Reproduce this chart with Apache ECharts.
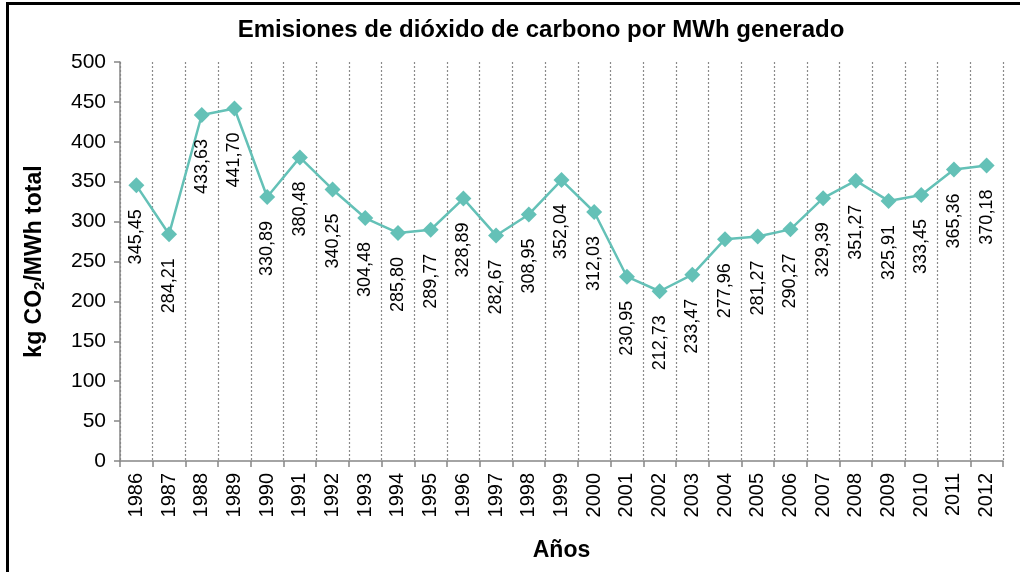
<!DOCTYPE html>
<html>
<head>
<meta charset="utf-8">
<script src="https://cdn.jsdelivr.net/npm/echarts@6/dist/echarts.min.js"></script>
<style>
  html, body { margin: 0; padding: 0; background: #fff; }
  #chart { width: 1020px; height: 572px; }
</style>
</head>
<body>
<div id="chart"></div>
<script>
var years = ['1986','1987','1988','1989','1990','1991','1992','1993','1994','1995','1996','1997','1998','1999',
             '2000','2001','2002','2003','2004','2005','2006','2007','2008','2009','2010','2011','2012'];
var emissions = [345.45, 284.21, 433.63, 441.70, 330.89, 380.48, 340.25, 304.48, 285.80, 289.77, 328.89, 282.67,
                 308.95, 352.04, 312.03, 230.95, 212.73, 233.47, 277.96, 281.27, 290.27, 329.39, 351.27, 325.91,
                 333.45, 365.36, 370.18];
var yTicks = [0, 50, 100, 150, 200, 250, 300, 350, 400, 450, 500];

var font = 'Liberation Sans, Arial, sans-serif';
var teal = '#64c1b7';
var axisGrey = '#868686';

var chart = echarts.init(document.getElementById('chart'));
chart.setOption({
    animation: false,
    textStyle: { fontFamily: font },
    title: {
        text: 'Emisiones de dióxido de carbono por MWh generado',
        left: 536,
        top: 13,
        textAlign: 'center',
        textStyle: { fontFamily: font, fontSize: 24, fontWeight: 'bold', color: '#000' }
    },
    graphic: [{
        type: 'rect',
        shape: { x: 7.5, y: 3.5, width: 1100, height: 700 },
        style: { fill: 'none', stroke: '#000', lineWidth: 3 },
        silent: true
    }],
    grid: { left: 120, right: 17, top: 62, bottom: 111 },
    xAxis: {
        type: 'category',
        data: years,
        boundaryGap: true,
        name: 'Años',
        nameLocation: 'middle',
        nameGap: 78,
        nameTextStyle: { fontFamily: font, fontSize: 23, fontWeight: 'bold', color: '#000' },
        axisLine: { lineStyle: { color: axisGrey, width: 1.5 } },
        axisTick: { show: true, length: 6, alignWithLabel: false, lineStyle: { color: axisGrey, width: 1.5 } },
        axisLabel: { rotate: 90, margin: 12, fontSize: 20, color: '#000', fontFamily: font },
        splitLine: { show: true, lineStyle: { color: '#8a8a8a', type: [2, 2], width: 1.2 } }
    },
    yAxis: {
        type: 'value',
        min: yTicks[0],
        max: yTicks[yTicks.length - 1],
        interval: 50,
        name: 'kg CO{sub|2}/MWh total',
        nameLocation: 'middle',
        nameGap: 73,
        nameTextStyle: {
            fontFamily: font, fontSize: 23, fontWeight: 'bold', color: '#000',
            rich: {
                sub: { fontFamily: font, fontSize: 15, fontWeight: 'bold', color: '#000', verticalAlign: 'bottom', padding: [9, 0, 0, 0] }
            }
        },
        axisLine: { show: true, lineStyle: { color: axisGrey, width: 1.5 } },
        axisTick: { show: true, length: 6, lineStyle: { color: axisGrey, width: 1.5 } },
        axisLabel: { margin: 14, fontSize: 21, color: '#000', fontFamily: font },
        splitLine: { show: false }
    },
    series: [{
        type: 'line',
        data: emissions,
        symbol: 'diamond',
        symbolSize: 16,
        lineStyle: { color: teal, width: 2.5 },
        itemStyle: { color: teal },
        label: {
            show: true,
            position: 'bottom',
            distance: 16,
            rotate: 90,
            align: 'right',
            verticalAlign: 'middle',
            fontSize: 18,
            color: '#000',
            fontFamily: font,
            formatter: function (p) { return p.value.toFixed(2).replace('.', ','); }
        }
    }]
});
</script>
</body>
</html>
